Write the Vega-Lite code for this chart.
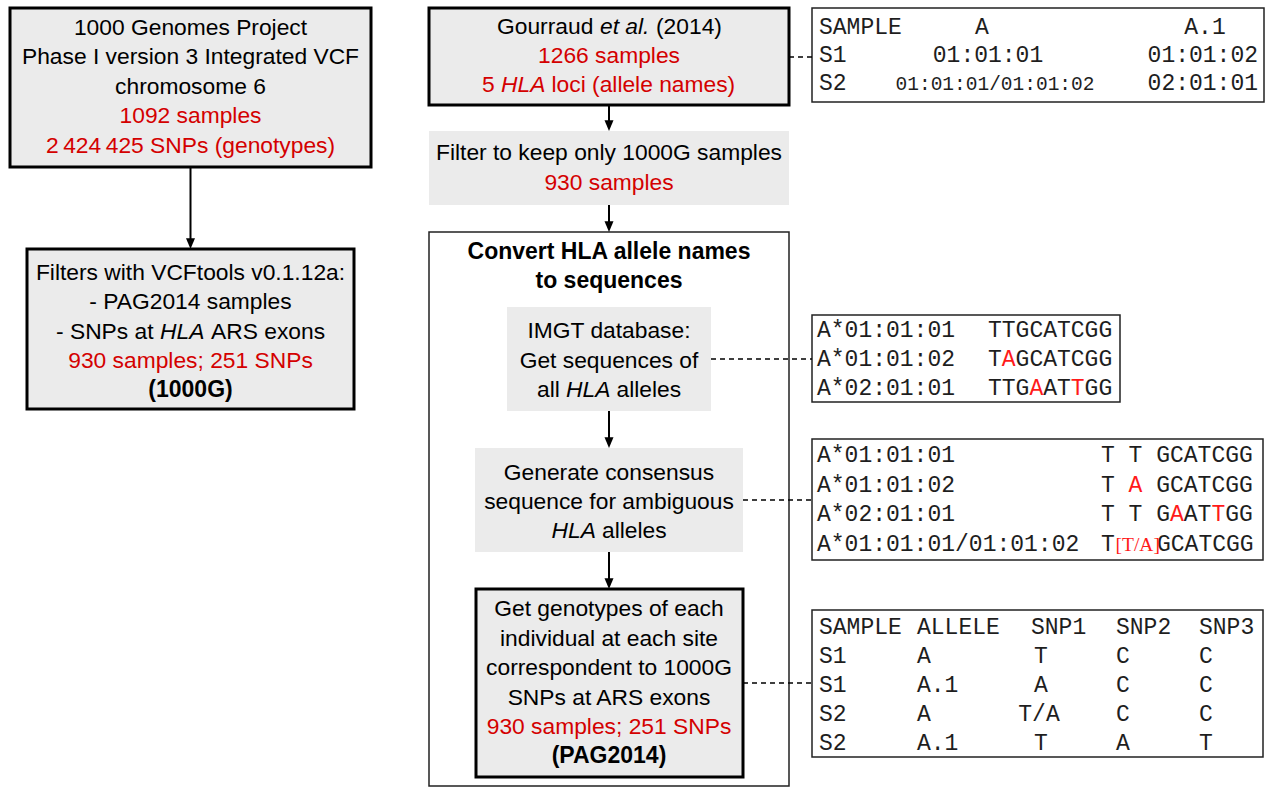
{
  "$schema": "https://vega.github.io/schema/vega-lite/v6.json",
  "width": 1268,
  "height": 789,
  "padding": 0,
  "autosize": {"type": "fit", "contains": "padding"},
  "background": "#ffffff",
  "config": {"view": {"stroke": null}},
  "datasets": {
    "boxes": [
      {"name": "box1", "x1": 10, "x2": 371, "y1": 8, "y2": 167, "kind": "thick"},
      {"name": "box2", "x1": 27, "x2": 354, "y1": 249, "y2": 409, "kind": "thick"},
      {"name": "gourraud", "x1": 429, "x2": 789, "y1": 8, "y2": 105, "kind": "thick"},
      {"name": "filter", "x1": 429, "x2": 789, "y1": 131, "y2": 205, "kind": "grey"},
      {"name": "frame", "x1": 429, "x2": 789, "y1": 232, "y2": 786, "kind": "thin"},
      {"name": "imgt", "x1": 507, "x2": 711, "y1": 307, "y2": 411, "kind": "grey"},
      {"name": "consensus", "x1": 475, "x2": 743, "y1": 448, "y2": 552, "kind": "grey"},
      {"name": "genotypes", "x1": 476, "x2": 743, "y1": 589, "y2": 777, "kind": "thick"},
      {"name": "table1", "x1": 812, "x2": 1264, "y1": 8, "y2": 102, "kind": "thin"},
      {"name": "table2", "x1": 812, "x2": 1120, "y1": 315, "y2": 402, "kind": "thin"},
      {"name": "table3", "x1": 812, "x2": 1263, "y1": 439, "y2": 560, "kind": "thin"},
      {"name": "table4", "x1": 812, "x2": 1263, "y1": 610, "y2": 757, "kind": "thin"}
    ],
    "arrows": [
      {"x": 190.5, "y1": 167, "ye": 243, "tip": 249},
      {"x": 609, "y1": 105, "ye": 125, "tip": 131},
      {"x": 609, "y1": 205, "ye": 226, "tip": 232},
      {"x": 609, "y1": 411, "ye": 442, "tip": 448},
      {"x": 609, "y1": 552, "ye": 583, "tip": 589}
    ],
    "links": [
      {"x1": 789, "x2": 812, "y": 57},
      {"x1": 711, "x2": 812, "y": 359},
      {"x1": 743, "x2": 812, "y": 500},
      {"x1": 743, "x2": 812, "y": 683}
    ],
    "sans": [
      {"x": 190.5, "y": 34.5, "text": "1000 Genomes Project", "tone": "k", "face": "regular", "anchor": "center"},
      {"x": 190.5, "y": 64, "text": "Phase I version 3 Integrated VCF", "tone": "k", "face": "regular", "anchor": "center"},
      {"x": 190.5, "y": 93.5, "text": "chromosome 6", "tone": "k", "face": "regular", "anchor": "center"},
      {"x": 190.5, "y": 123, "text": "1092 samples", "tone": "r", "face": "regular", "anchor": "center"},
      {"x": 190.5, "y": 152.5, "text": "2\u2009424\u2009425 SNPs (genotypes)", "tone": "r", "face": "regular", "anchor": "center"},
      {"x": 190.5, "y": 279.5, "text": "Filters with VCFtools v0.1.12a:", "tone": "k", "face": "regular", "anchor": "center"},
      {"x": 190.5, "y": 309, "text": "- PAG2014 samples", "tone": "k", "face": "regular", "anchor": "center"},
      {"x": 56, "y": 338.5, "text": "- SNPs at", "tone": "k", "face": "regular", "anchor": "left"},
      {"x": 160, "y": 338.5, "text": "HLA", "tone": "k", "face": "italic", "anchor": "left"},
      {"x": 211, "y": 338.5, "text": "ARS exons", "tone": "k", "face": "regular", "anchor": "left"},
      {"x": 190.5, "y": 368, "text": "930 samples; 251 SNPs", "tone": "r", "face": "regular", "anchor": "center"},
      {"x": 190.5, "y": 397, "text": "(1000G)", "tone": "k", "face": "bold", "anchor": "center"},
      {"x": 497, "y": 33.5, "text": "Gourraud", "tone": "k", "face": "regular", "anchor": "left"},
      {"x": 600, "y": 33.5, "text": "et al.", "tone": "k", "face": "italic", "anchor": "left"},
      {"x": 656, "y": 33.5, "text": "(2014)", "tone": "k", "face": "regular", "anchor": "left"},
      {"x": 609, "y": 63, "text": "1266 samples", "tone": "r", "face": "regular", "anchor": "center"},
      {"x": 482, "y": 92, "text": "5", "tone": "r", "face": "regular", "anchor": "left"},
      {"x": 501, "y": 92, "text": "HLA", "tone": "r", "face": "italic", "anchor": "left"},
      {"x": 551.5, "y": 92, "text": "loci (allele names)", "tone": "r", "face": "regular", "anchor": "left"},
      {"x": 609, "y": 160, "text": "Filter to keep only 1000G samples", "tone": "k", "face": "regular", "anchor": "center"},
      {"x": 609, "y": 189.5, "text": "930 samples", "tone": "r", "face": "regular", "anchor": "center"},
      {"x": 609, "y": 258.5, "text": "Convert HLA allele names", "tone": "k", "face": "bold", "anchor": "center"},
      {"x": 609, "y": 287.5, "text": "to sequences", "tone": "k", "face": "bold", "anchor": "center"},
      {"x": 609, "y": 338, "text": "IMGT database:", "tone": "k", "face": "regular", "anchor": "center"},
      {"x": 609, "y": 367.5, "text": "Get sequences of", "tone": "k", "face": "regular", "anchor": "center"},
      {"x": 537, "y": 396.7, "text": "all", "tone": "k", "face": "regular", "anchor": "left"},
      {"x": 566, "y": 396.7, "text": "HLA", "tone": "k", "face": "italic", "anchor": "left"},
      {"x": 616.5, "y": 396.7, "text": "alleles", "tone": "k", "face": "regular", "anchor": "left"},
      {"x": 609, "y": 479.5, "text": "Generate consensus", "tone": "k", "face": "regular", "anchor": "center"},
      {"x": 609, "y": 508.5, "text": "sequence for ambiguous", "tone": "k", "face": "regular", "anchor": "center"},
      {"x": 551.5, "y": 537.5, "text": "HLA", "tone": "k", "face": "italic", "anchor": "left"},
      {"x": 602, "y": 537.5, "text": "alleles", "tone": "k", "face": "regular", "anchor": "left"},
      {"x": 609, "y": 616, "text": "Get genotypes of each", "tone": "k", "face": "regular", "anchor": "center"},
      {"x": 609, "y": 646, "text": "individual at each site", "tone": "k", "face": "regular", "anchor": "center"},
      {"x": 609, "y": 675, "text": "correspondent to 1000G", "tone": "k", "face": "regular", "anchor": "center"},
      {"x": 609, "y": 704.5, "text": "SNPs at ARS exons", "tone": "k", "face": "regular", "anchor": "center"},
      {"x": 609, "y": 734, "text": "930 samples; 251 SNPs", "tone": "r", "face": "regular", "anchor": "center"},
      {"x": 609, "y": 763, "text": "(PAG2014)", "tone": "k", "face": "bold", "anchor": "center"}
    ],
    "mono": [
      {"x": 819, "y": 34, "text": "SAMPLE", "tone": "mk", "anchor": "left", "cut": "std"},
      {"x": 982, "y": 34, "text": "A", "tone": "mk", "anchor": "center", "cut": "std"},
      {"x": 1205, "y": 34, "text": "A.1", "tone": "mk", "anchor": "center", "cut": "std"},
      {"x": 819, "y": 62, "text": "S1", "tone": "mk", "anchor": "left", "cut": "std"},
      {"x": 988, "y": 62, "text": "01:01:01", "tone": "mk", "anchor": "center", "cut": "std"},
      {"x": 1258, "y": 62, "text": "01:01:02", "tone": "mk", "anchor": "right", "cut": "std"},
      {"x": 819, "y": 90, "text": "S2", "tone": "mk", "anchor": "left", "cut": "std"},
      {"x": 995, "y": 90, "text": "01:01:01/01:01:02", "tone": "mk", "anchor": "center", "cut": "small"},
      {"x": 1258, "y": 90, "text": "02:01:01", "tone": "mk", "anchor": "right", "cut": "std"},

      {"x": 817, "y": 337, "text": "A*01:01:01", "tone": "mk", "anchor": "left", "cut": "std"},
      {"x": 817, "y": 366, "text": "A*01:01:02", "tone": "mk", "anchor": "left", "cut": "std"},
      {"x": 817, "y": 395, "text": "A*02:01:01", "tone": "mk", "anchor": "left", "cut": "std"},
      {"x": 988, "y": 337, "text": "TTGCATCGG", "tone": "mk", "anchor": "left", "cut": "std"},
      {"x": 988, "y": 366, "text": "T", "tone": "mk", "anchor": "left", "cut": "std"},
      {"x": 1001.8, "y": 366, "text": "A", "tone": "mr", "anchor": "left", "cut": "std"},
      {"x": 1015.6, "y": 366, "text": "GCATCGG", "tone": "mk", "anchor": "left", "cut": "std"},
      {"x": 988, "y": 395, "text": "TTG", "tone": "mk", "anchor": "left", "cut": "std"},
      {"x": 1029.4, "y": 395, "text": "A", "tone": "mr", "anchor": "left", "cut": "std"},
      {"x": 1043.2, "y": 395, "text": "AT", "tone": "mk", "anchor": "left", "cut": "std"},
      {"x": 1070.8, "y": 395, "text": "T", "tone": "mr", "anchor": "left", "cut": "std"},
      {"x": 1084.6, "y": 395, "text": "GG", "tone": "mk", "anchor": "left", "cut": "std"},

      {"x": 817, "y": 462, "text": "A*01:01:01", "tone": "mk", "anchor": "left", "cut": "std"},
      {"x": 817, "y": 491.5, "text": "A*01:01:02", "tone": "mk", "anchor": "left", "cut": "std"},
      {"x": 817, "y": 521, "text": "A*02:01:01", "tone": "mk", "anchor": "left", "cut": "std"},
      {"x": 817, "y": 550.5, "text": "A*01:01:01/01:01:02", "tone": "mk", "anchor": "left", "cut": "std"},
      {"x": 1101, "y": 462, "text": "T T GCATCGG", "tone": "mk", "anchor": "left", "cut": "std"},
      {"x": 1101, "y": 491.5, "text": "T", "tone": "mk", "anchor": "left", "cut": "std"},
      {"x": 1128.6, "y": 491.5, "text": "A", "tone": "mr", "anchor": "left", "cut": "std"},
      {"x": 1156.2, "y": 491.5, "text": "GCATCGG", "tone": "mk", "anchor": "left", "cut": "std"},
      {"x": 1101, "y": 521, "text": "T T G", "tone": "mk", "anchor": "left", "cut": "std"},
      {"x": 1170, "y": 521, "text": "A", "tone": "mr", "anchor": "left", "cut": "std"},
      {"x": 1183.8, "y": 521, "text": "AT", "tone": "mk", "anchor": "left", "cut": "std"},
      {"x": 1211.4, "y": 521, "text": "T", "tone": "mr", "anchor": "left", "cut": "std"},
      {"x": 1225.2, "y": 521, "text": "GG", "tone": "mk", "anchor": "left", "cut": "std"},
      {"x": 1101, "y": 550.5, "text": "T", "tone": "mk", "anchor": "left", "cut": "std"},
      {"x": 1115.5, "y": 550.5, "text": "[T/A]", "tone": "mr", "anchor": "left", "cut": "serif"},
      {"x": 1157, "y": 550.5, "text": "GCATCGG", "tone": "mk", "anchor": "left", "cut": "std"},

      {"x": 819, "y": 634, "text": "SAMPLE", "tone": "mk", "anchor": "left", "cut": "std"},
      {"x": 917, "y": 634, "text": "ALLELE", "tone": "mk", "anchor": "left", "cut": "std"},
      {"x": 1031, "y": 634, "text": "SNP1", "tone": "mk", "anchor": "left", "cut": "std"},
      {"x": 1116, "y": 634, "text": "SNP2", "tone": "mk", "anchor": "left", "cut": "std"},
      {"x": 1199, "y": 634, "text": "SNP3", "tone": "mk", "anchor": "left", "cut": "std"},
      {"x": 819, "y": 663, "text": "S1", "tone": "mk", "anchor": "left", "cut": "std"},
      {"x": 917, "y": 663, "text": "A", "tone": "mk", "anchor": "left", "cut": "std"},
      {"x": 1041, "y": 663, "text": "T", "tone": "mk", "anchor": "center", "cut": "std"},
      {"x": 1116, "y": 663, "text": "C", "tone": "mk", "anchor": "left", "cut": "std"},
      {"x": 1199, "y": 663, "text": "C", "tone": "mk", "anchor": "left", "cut": "std"},
      {"x": 819, "y": 692, "text": "S1", "tone": "mk", "anchor": "left", "cut": "std"},
      {"x": 917, "y": 692, "text": "A.1", "tone": "mk", "anchor": "left", "cut": "std"},
      {"x": 1041, "y": 692, "text": "A", "tone": "mk", "anchor": "center", "cut": "std"},
      {"x": 1116, "y": 692, "text": "C", "tone": "mk", "anchor": "left", "cut": "std"},
      {"x": 1199, "y": 692, "text": "C", "tone": "mk", "anchor": "left", "cut": "std"},
      {"x": 819, "y": 721, "text": "S2", "tone": "mk", "anchor": "left", "cut": "std"},
      {"x": 917, "y": 721, "text": "A", "tone": "mk", "anchor": "left", "cut": "std"},
      {"x": 1039, "y": 721, "text": "T/A", "tone": "mk", "anchor": "center", "cut": "std"},
      {"x": 1116, "y": 721, "text": "C", "tone": "mk", "anchor": "left", "cut": "std"},
      {"x": 1199, "y": 721, "text": "C", "tone": "mk", "anchor": "left", "cut": "std"},
      {"x": 819, "y": 750, "text": "S2", "tone": "mk", "anchor": "left", "cut": "std"},
      {"x": 917, "y": 750, "text": "A.1", "tone": "mk", "anchor": "left", "cut": "std"},
      {"x": 1041, "y": 750, "text": "T", "tone": "mk", "anchor": "center", "cut": "std"},
      {"x": 1116, "y": 750, "text": "A", "tone": "mk", "anchor": "left", "cut": "std"},
      {"x": 1199, "y": 750, "text": "T", "tone": "mk", "anchor": "left", "cut": "std"}
    ]
  },
  "layer": [
    {
      "data": {"name": "boxes"},
      "transform": [{"filter": "datum.kind === 'thin'"}],
      "mark": {"type": "rect", "fill": "#ffffff", "stroke": "#222222", "strokeWidth": 1.5},
      "encoding": {
        "x": {"field": "x1", "type": "quantitative", "scale": {"domain": [0, 1268], "nice": false, "zero": false}, "axis": null},
        "x2": {"field": "x2"},
        "y": {"field": "y1", "type": "quantitative", "scale": {"domain": [0, 789], "nice": false, "zero": false, "reverse": true}, "axis": null},
        "y2": {"field": "y2"}
      }
    },
    {
      "data": {"name": "boxes"},
      "transform": [{"filter": "datum.kind === 'grey'"}],
      "mark": {"type": "rect", "fill": "#ebebeb", "strokeWidth": 0},
      "encoding": {
        "x": {"field": "x1", "type": "quantitative", "axis": null},
        "x2": {"field": "x2"},
        "y": {"field": "y1", "type": "quantitative", "axis": null},
        "y2": {"field": "y2"}
      }
    },
    {
      "data": {"name": "boxes"},
      "transform": [{"filter": "datum.kind === 'thick'"}],
      "mark": {"type": "rect", "fill": "#ebebeb", "stroke": "#000000", "strokeWidth": 3},
      "encoding": {
        "x": {"field": "x1", "type": "quantitative", "axis": null},
        "x2": {"field": "x2"},
        "y": {"field": "y1", "type": "quantitative", "axis": null},
        "y2": {"field": "y2"}
      }
    },
    {
      "data": {"name": "links"},
      "mark": {"type": "rule", "color": "#000000", "strokeWidth": 1.5, "strokeDash": [5, 4]},
      "encoding": {
        "x": {"field": "x1", "type": "quantitative", "axis": null},
        "x2": {"field": "x2"},
        "y": {"field": "y", "type": "quantitative", "axis": null}
      }
    },
    {
      "data": {"name": "arrows"},
      "mark": {"type": "rule", "color": "#000000", "strokeWidth": 2},
      "encoding": {
        "x": {"field": "x", "type": "quantitative", "axis": null},
        "y": {"field": "y1", "type": "quantitative", "axis": null},
        "y2": {"field": "ye"}
      }
    },
    {
      "data": {"name": "arrows"},
      "mark": {"type": "point", "shape": "M-1,-2.4L1,-2.4L0,0Z", "filled": true, "color": "#000000", "opacity": 1, "size": 81, "strokeWidth": 0},
      "encoding": {
        "x": {"field": "x", "type": "quantitative", "axis": null},
        "y": {"field": "tip", "type": "quantitative", "axis": null}
      }
    },
    {
      "data": {"name": "sans"},
      "transform": [{"filter": "datum.face === 'regular' && datum.anchor === 'center'"}],
      "mark": {"type": "text", "font": "Liberation Sans", "fontSize": 22.8, "align": "center", "baseline": "alphabetic"},
      "encoding": {
        "x": {"field": "x", "type": "quantitative", "axis": null},
        "y": {"field": "y", "type": "quantitative", "axis": null},
        "text": {"field": "text"},
        "color": {"field": "tone", "type": "nominal", "scale": {"domain": ["k", "r", "mk", "mr"], "range": ["#000000", "#d40000", "#1e1e1e", "#ff1a1a"]}, "legend": null}
      }
    },
    {
      "data": {"name": "sans"},
      "transform": [{"filter": "datum.face === 'regular' && datum.anchor === 'left'"}],
      "mark": {"type": "text", "font": "Liberation Sans", "fontSize": 22.8, "align": "left", "baseline": "alphabetic"},
      "encoding": {
        "x": {"field": "x", "type": "quantitative", "axis": null},
        "y": {"field": "y", "type": "quantitative", "axis": null},
        "text": {"field": "text"},
        "color": {"field": "tone", "type": "nominal", "legend": null}
      }
    },
    {
      "data": {"name": "sans"},
      "transform": [{"filter": "datum.face === 'italic'"}],
      "mark": {"type": "text", "font": "Liberation Sans", "fontSize": 22.8, "fontStyle": "italic", "align": "left", "baseline": "alphabetic"},
      "encoding": {
        "x": {"field": "x", "type": "quantitative", "axis": null},
        "y": {"field": "y", "type": "quantitative", "axis": null},
        "text": {"field": "text"},
        "color": {"field": "tone", "type": "nominal", "legend": null}
      }
    },
    {
      "data": {"name": "sans"},
      "transform": [{"filter": "datum.face === 'bold'"}],
      "mark": {"type": "text", "font": "Liberation Sans", "fontSize": 23, "fontWeight": "bold", "align": "center", "baseline": "alphabetic"},
      "encoding": {
        "x": {"field": "x", "type": "quantitative", "axis": null},
        "y": {"field": "y", "type": "quantitative", "axis": null},
        "text": {"field": "text"},
        "color": {"field": "tone", "type": "nominal", "legend": null}
      }
    },
    {
      "data": {"name": "mono"},
      "transform": [{"filter": "datum.cut === 'std' && datum.anchor === 'left'"}],
      "mark": {"type": "text", "font": "Liberation Mono", "fontSize": 23, "align": "left", "baseline": "alphabetic"},
      "encoding": {
        "x": {"field": "x", "type": "quantitative", "axis": null},
        "y": {"field": "y", "type": "quantitative", "axis": null},
        "text": {"field": "text"},
        "color": {"field": "tone", "type": "nominal", "legend": null}
      }
    },
    {
      "data": {"name": "mono"},
      "transform": [{"filter": "datum.cut === 'std' && datum.anchor === 'center'"}],
      "mark": {"type": "text", "font": "Liberation Mono", "fontSize": 23, "align": "center", "baseline": "alphabetic"},
      "encoding": {
        "x": {"field": "x", "type": "quantitative", "axis": null},
        "y": {"field": "y", "type": "quantitative", "axis": null},
        "text": {"field": "text"},
        "color": {"field": "tone", "type": "nominal", "legend": null}
      }
    },
    {
      "data": {"name": "mono"},
      "transform": [{"filter": "datum.cut === 'std' && datum.anchor === 'right'"}],
      "mark": {"type": "text", "font": "Liberation Mono", "fontSize": 23, "align": "right", "baseline": "alphabetic"},
      "encoding": {
        "x": {"field": "x", "type": "quantitative", "axis": null},
        "y": {"field": "y", "type": "quantitative", "axis": null},
        "text": {"field": "text"},
        "color": {"field": "tone", "type": "nominal", "legend": null}
      }
    },
    {
      "data": {"name": "mono"},
      "transform": [{"filter": "datum.cut === 'small'"}],
      "mark": {"type": "text", "font": "Liberation Mono", "fontSize": 19.5, "align": "center", "baseline": "alphabetic"},
      "encoding": {
        "x": {"field": "x", "type": "quantitative", "axis": null},
        "y": {"field": "y", "type": "quantitative", "axis": null},
        "text": {"field": "text"},
        "color": {"field": "tone", "type": "nominal", "legend": null}
      }
    },
    {
      "data": {"name": "mono"},
      "transform": [{"filter": "datum.cut === 'serif'"}],
      "mark": {"type": "text", "font": "Liberation Serif", "fontSize": 19.5, "align": "left", "baseline": "alphabetic"},
      "encoding": {
        "x": {"field": "x", "type": "quantitative", "axis": null},
        "y": {"field": "y", "type": "quantitative", "axis": null},
        "text": {"field": "text"},
        "color": {"field": "tone", "type": "nominal", "legend": null}
      }
    }
  ]
}
